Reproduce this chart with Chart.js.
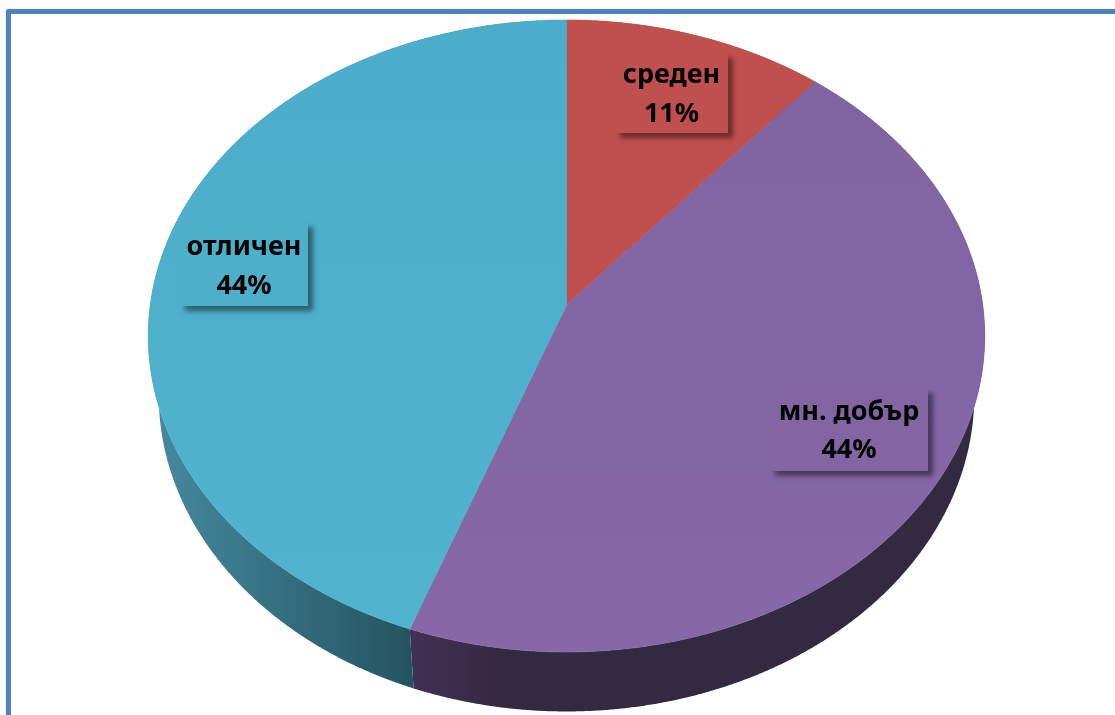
<!DOCTYPE html>
<html><head><meta charset="utf-8">
<style>
html,body{margin:0;padding:0;background:#fff;overflow:hidden;width:1115px;height:715px}
#frame{position:absolute;left:6px;top:9px;width:1200px;height:800px;border:5px solid #4f81bd;border-radius:2px;box-shadow:0 0 2px #c5d6ea;box-sizing:border-box}
canvas{position:absolute;left:0;top:0}
</style>
<script src="https://cdn.jsdelivr.net/npm/chart.js@4"></script>
</head><body>
<div id="frame"></div>
<canvas id="c" width="1115" height="715"></canvas>
<script>
const categories = ['среден', 'мн. добър', 'отличен'];
const values = [1, 4, 4];
const topColorsA = ['#c0504d', '#8063a1', '#4badc9'];
const topColorsB = ['#c0504d', '#8668a8', '#52b3cf'];
const wallColorsA = ['#7a3230', '#422f55', '#46899f'];
const wallColorsB = ['#7a3230', '#332940', '#23535f'];
const wallRanges = [[566, 815], [414, 510], [157, 414]];
const labelBoxes = [
  {l:615, t:53,  r:728, b:133, b1:83,  b2:122},
  {l:770, t:388, r:928, b:471, b1:420, b2:458},
  {l:180, t:222, r:308, b:306, b1:255, b2:294}
];
const P = {cx:566.5, y0:305, a:416.2, b:283, w:-0.0981, depth:59.5, shrink:0.975};

function project(ux, uy){
  const d = 1 + P.w*uy;
  return [P.cx + P.a*ux/d, (P.y0 + P.b*uy)/d];
}
function projectLow(ux, uy){
  const p = project(ux, uy);
  return [P.cx + (p[0]-P.cx)*P.shrink, p[1] + P.depth];
}
function arcPoints(el, fn){
  const pts = [];
  const n = Math.max(2, Math.ceil((el.endAngle-el.startAngle)/0.004));
  for(let i=0;i<=n;i++){
    const t = el.startAngle + (el.endAngle-el.startAngle)*i/n;
    pts.push(fn(Math.cos(t), Math.sin(t)));
  }
  return pts;
}
const perspectivePie = {
  id:'perspectivePie',
  beforeDatasetDraw(chart, args){
    const ctx = chart.ctx;
    const arcs = chart.getDatasetMeta(args.index).data;
    ctx.save();
    arcs.forEach((el,i)=>{
      const top = arcPoints(el, project), low = arcPoints(el, projectLow).reverse();
      const g = ctx.createLinearGradient(wallRanges[i][0],0,wallRanges[i][1],0);
      g.addColorStop(0, wallColorsA[i]); g.addColorStop(1, wallColorsB[i]);
      ctx.beginPath();
      top.concat(low).forEach((p,k)=> k?ctx.lineTo(p[0],p[1]):ctx.moveTo(p[0],p[1]));
      ctx.closePath(); ctx.fillStyle=g; ctx.fill();
    });
    arcs.forEach((el,i)=>{
      const g = ctx.createLinearGradient(0,20,0,652);
      g.addColorStop(0, topColorsA[i]); g.addColorStop(1, topColorsB[i]);
      const c = project(0,0);
      ctx.beginPath(); ctx.moveTo(c[0],c[1]);
      arcPoints(el, project).forEach(p=>ctx.lineTo(p[0],p[1]));
      ctx.closePath(); ctx.fillStyle=g; ctx.fill();
      ctx.strokeStyle=g; ctx.lineWidth=0.7; ctx.lineJoin='round'; ctx.stroke();
    });
    const total = values.reduce((a,b)=>a+b,0);
    arcs.forEach((el,i)=>{
      const b = labelBoxes[i];
      ctx.save();
      ctx.shadowColor='rgba(0,0,0,0.45)'; ctx.shadowBlur=5; ctx.shadowOffsetX=5; ctx.shadowOffsetY=5;
      ctx.fillStyle = i===0?'#c0504d':(i===1?'#8365a4':'#4dafca');
      ctx.fillRect(b.l,b.t,b.r-b.l,b.b-b.t);
      ctx.restore();
      ctx.fillStyle='#000'; ctx.textAlign='center'; ctx.textBaseline='alphabetic';
      ctx.font='bold 27px "Noto Sans"';
      const mx=(b.l+b.r)/2;
      ctx.fillText(categories[i], mx, b.b1);
      ctx.fillText(Math.round(values[i]/total*100)+'%', mx, b.b2);
    });
    ctx.restore();
    return false;
  }
};
new Chart(document.getElementById('c'),{
  type:'pie',
  data:{labels:categories,datasets:[{data:values,backgroundColor:topColorsA,borderWidth:0}]},
  options:{responsive:false,animation:false,layout:{padding:0},
    plugins:{legend:{display:false},tooltip:{enabled:false}}},
  plugins:[perspectivePie]
});
</script>
</body></html>
